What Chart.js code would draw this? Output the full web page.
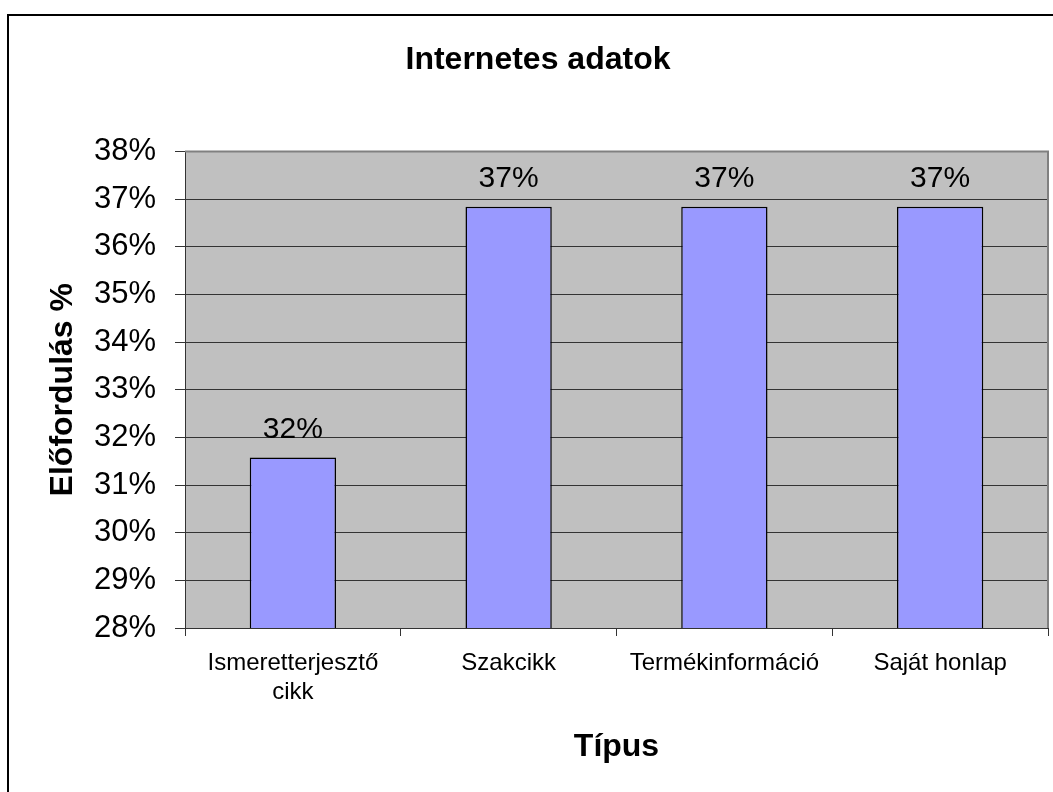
<!DOCTYPE html>
<html>
<head>
<meta charset="utf-8">
<script src="https://cdn.jsdelivr.net/npm/chart.js@4"></script>
<style>
  html, body { margin: 0; padding: 0; background: #fff; overflow: hidden; }
  #wrap { position: relative; width: 1053px; height: 792px; }
  #frame { position: absolute; left: 7px; top: 14px; width: 1100px; height: 900px;
           border: 2px solid #000; pointer-events: none; }
  canvas { position: absolute; left: 0; top: 0; }
</style>
</head>
<body>
<div id="wrap">
  <canvas id="chart" width="1053" height="792"></canvas>
  <div id="frame"></div>
</div>
<script>
// --- Internetes adatok ---
const categories = [['Ismeretterjesztő', 'cikk'], 'Szakcikk', 'Termékinformáció', 'Saját honlap'];
const shares = [0.3158, 0.3684, 0.3684, 0.3684];
const yMin = 0.28;
const yMax = 0.38;
const yStep = 0.01;

const FONT = '"Liberation Sans", Arial, sans-serif';
const pct = v => Math.round(v * 100) + '%';

// gray plot area behind the bars, with a gray border round it
const plotBg = {
    id: 'plotBg',
    beforeDraw(chart) {
        const { ctx, chartArea: a } = chart;
        ctx.save();
        ctx.fillStyle = '#c0c0c0';
        ctx.fillRect(a.left, a.top, a.right - a.left, a.bottom - a.top);
        ctx.restore();
    },
    afterDraw(chart) {
        const { ctx, chartArea: a } = chart;
        ctx.save();
        ctx.strokeStyle = '#808080';
        ctx.lineWidth = 2;
        ctx.beginPath();
        ctx.moveTo(a.left, a.top);
        ctx.lineTo(a.right, a.top);
        ctx.lineTo(a.right, a.bottom);
        ctx.stroke();
        ctx.restore();
    }
};

// value labels over the bars
const barLabels = {
    id: 'barLabels',
    afterDatasetsDraw(chart) {
        const { ctx } = chart;
        const meta = chart.getDatasetMeta(0);
        ctx.save();
        ctx.font = '30px ' + FONT;
        ctx.fillStyle = '#000';
        ctx.textAlign = 'center';
        ctx.textBaseline = 'middle';
        meta.data.forEach((bar, i) => {
            ctx.fillText(pct(shares[i]), bar.x, bar.y - 28);
        });
        ctx.restore();
    }
};

new Chart(document.getElementById('chart'), {
    type: 'bar',
    data: {
        labels: categories,
        datasets: [{
            data: shares,
            backgroundColor: '#9999ff',
            borderColor: '#000',
            borderWidth: 1.5,
            barPercentage: 0.4,
            categoryPercentage: 1
        }]
    },
    options: {
        responsive: false,
        animation: false,
        layout: { padding: { left: 28, right: 5, top: 0, bottom: 0 } },
        plugins: {
            legend: { display: false },
            tooltip: { enabled: false },
            title: {
                display: true,
                text: 'Internetes adatok',
                color: '#000',
                font: { family: FONT, size: 32, weight: 'bold', lineHeight: 1.2 },
                padding: { top: 41, bottom: 72 }
            }
        },
        scales: {
            x: {
                grid: { offset: true, drawOnChartArea: false, tickLength: 8, tickColor: '#333', lineWidth: 1 },
                border: { display: true, color: '#333', width: 1 },
                ticks: { color: '#000', font: { family: FONT, size: 24 }, padding: 13, maxRotation: 0, autoSkip: false },
                title: {
                    display: true,
                    text: 'Típus',
                    color: '#000',
                    font: { family: FONT, size: 32, weight: 'bold', lineHeight: 1.2 },
                    padding: { top: 0, bottom: 26 }
                },
                afterFit(scale) { scale.height = 164; }
            },
            y: {
                min: yMin,
                max: yMax,
                grid: { color: '#333', tickColor: '#333', tickLength: 10, lineWidth: 1 },
                border: { display: true, color: '#333', width: 1 },
                ticks: {
                    stepSize: yStep,
                    color: '#000',
                    font: { family: FONT, size: 31 },
                    padding: 19,
                    autoSkip: false,
                    callback: v => pct(v)
                },
                title: {
                    display: true,
                    text: 'Előfordulás %',
                    color: '#000',
                    font: { family: FONT, size: 32, weight: 'bold', lineHeight: 1.2 },
                    padding: { top: 16, bottom: 0 }
                },
                afterFit(scale) { scale.width = 157; }
            }
        }
    },
    plugins: [plotBg, barLabels]
});
</script>
</body>
</html>
